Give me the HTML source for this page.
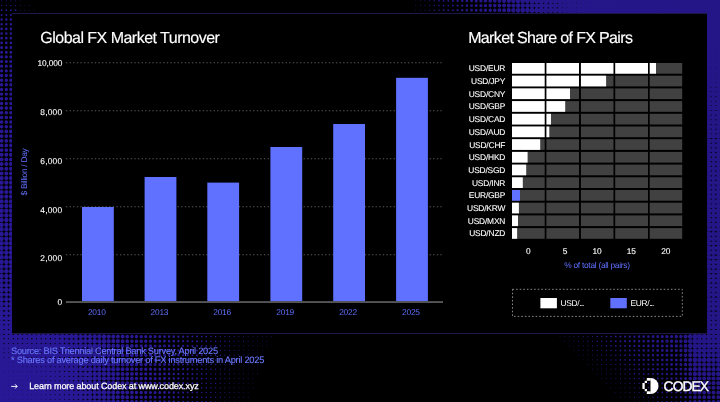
<!DOCTYPE html>
<html><head><meta charset="utf-8"><title>Global FX Market Turnover</title>
<style>
html,body{margin:0;padding:0;}
body{width:720px;height:402px;background:#000;position:relative;overflow:hidden;font-family:"Liberation Sans",sans-serif;}
svg{position:absolute;left:0;top:0;display:block;}
.panel{position:absolute;left:12.2px;top:13.0px;width:695.0px;height:321.0px;background:#000;border-top:1px solid #1e1848;border-bottom:1px solid #1e1848;box-sizing:border-box;}
.t{position:absolute;white-space:nowrap;line-height:10px;height:10px;font-size:8.4px;color:#fff;text-rendering:geometricPrecision;}
.h{font-size:16px;line-height:18px;height:18px;top:29.9px;color:#fff;-webkit-text-stroke:0.15px #fff;}
.yl{left:20px;width:42.3px;text-align:right;-webkit-text-stroke:0.1px #fff;}
.xl{top:307.1px;width:40px;text-align:center;color:#6070ff;letter-spacing:-0.23px;}
.rl{left:440px;width:65.2px;text-align:right;letter-spacing:-0.18px;-webkit-text-stroke:0.1px #fff;}
.tk{top:246.0px;width:30px;text-align:center;letter-spacing:-0.2px;-webkit-text-stroke:0.1px #fff;}
.txt{position:absolute;left:0;top:0;width:720px;height:402px;will-change:transform;}
.src{font-size:9.3px;color:#6a78ff;left:11.0px;-webkit-text-stroke:0.12px #6a78ff;}
</style></head><body>
<svg class="ht" style="filter:blur(0.35px)" width="720" height="402" viewBox="0 0 720 402"><defs><linearGradient id="pg" gradientUnits="userSpaceOnUse" x1="0" y1="0" x2="720" y2="0"><stop offset="0" stop-color="#281896"/><stop offset="1" stop-color="#241687"/></linearGradient></defs><g fill="none" stroke="url(#pg)" stroke-linecap="round"><path d="M415.7 -3.8h0M20.2 0.9h0M415.7 0.9h0M24.9 5.6h0M29.5 5.6h0M415.7 5.6h0M29.5 10.2h0M34.2 10.2h0M415.7 10.2h0M34.2 14.9h0M415.7 14.9h0M262.2 331.9h0M266.8 331.9h0M271.5 331.9h0M555.3 331.9h0M560.0 331.9h0M262.2 336.6h0M266.8 336.6h0M271.5 336.6h0M560.0 336.6h0M564.6 336.6h0M257.5 341.2h0M262.2 341.2h0M266.8 341.2h0M564.6 341.2h0M569.3 341.2h0M257.5 345.9h0M262.2 345.9h0M266.8 345.9h0M569.3 345.9h0M573.9 345.9h0M257.5 350.5h0M262.2 350.5h0M573.9 350.5h0M578.6 350.5h0M252.9 355.2h0M257.5 355.2h0M262.2 355.2h0M578.6 355.2h0M583.2 355.2h0M252.9 359.9h0M257.5 359.9h0M262.2 359.9h0M583.2 359.9h0M587.9 359.9h0M252.9 364.5h0M257.5 364.5h0M587.9 364.5h0M592.5 364.5h0M248.2 369.2h0M252.9 369.2h0M257.5 369.2h0M592.5 369.2h0M597.2 369.2h0M248.2 373.9h0M252.9 373.9h0M257.5 373.9h0M597.2 373.9h0M601.8 373.9h0M248.2 378.5h0M252.9 378.5h0M601.8 378.5h0M606.5 378.5h0M248.2 383.2h0M252.9 383.2h0M606.5 383.2h0M611.1 383.2h0M243.6 387.8h0M248.2 387.8h0M252.9 387.8h0M611.1 387.8h0M615.8 387.8h0M243.6 392.5h0M248.2 392.5h0M615.8 392.5h0M620.4 392.5h0M243.6 397.2h0M248.2 397.2h0M620.4 397.2h0M625.1 397.2h0M243.6 401.8h0M248.2 401.8h0M625.1 401.8h0M629.8 401.8h0M238.9 406.5h0M243.6 406.5h0M248.2 406.5h0M629.8 406.5h0M634.4 406.5h0" stroke-width="0.6"/><path d="M-3.1 -3.8h0M1.6 -3.8h0M6.3 -3.8h0M10.9 -3.8h0M15.6 -3.8h0M420.4 -3.8h0M420.4 0.9h0M20.2 5.6h0M420.4 5.6h0M24.9 10.2h0M420.4 10.2h0M29.5 14.9h0M420.4 14.9h0M248.2 331.9h0M252.9 331.9h0M257.5 331.9h0M564.6 331.9h0M248.2 336.6h0M252.9 336.6h0M257.5 336.6h0M569.3 336.6h0M248.2 341.2h0M252.9 341.2h0M573.9 341.2h0M243.6 345.9h0M248.2 345.9h0M252.9 345.9h0M578.6 345.9h0M243.6 350.5h0M248.2 350.5h0M252.9 350.5h0M583.2 350.5h0M243.6 355.2h0M248.2 355.2h0M587.9 355.2h0M238.9 359.9h0M243.6 359.9h0M248.2 359.9h0M592.5 359.9h0M238.9 364.5h0M243.6 364.5h0M248.2 364.5h0M597.2 364.5h0M238.9 369.2h0M243.6 369.2h0M601.8 369.2h0M238.9 373.9h0M243.6 373.9h0M606.5 373.9h0M234.2 378.5h0M238.9 378.5h0M243.6 378.5h0M611.1 378.5h0M234.2 383.2h0M238.9 383.2h0M243.6 383.2h0M615.8 383.2h0M234.2 387.8h0M238.9 387.8h0M620.4 387.8h0M234.2 392.5h0M238.9 392.5h0M625.1 392.5h0M229.6 397.2h0M234.2 397.2h0M238.9 397.2h0M629.8 397.2h0M229.6 401.8h0M234.2 401.8h0M238.9 401.8h0M634.4 401.8h0M229.6 406.5h0M234.2 406.5h0M639.1 406.5h0" stroke-width="0.8"/><path d="M425.0 -3.8h0M-3.1 0.9h0M1.6 0.9h0M6.3 0.9h0M10.9 0.9h0M15.6 0.9h0M425.0 0.9h0M425.0 5.6h0M20.2 10.2h0M425.0 10.2h0M20.2 14.9h0M24.9 14.9h0M425.0 14.9h0M238.9 331.9h0M243.6 331.9h0M569.3 331.9h0M573.9 331.9h0M238.9 336.6h0M243.6 336.6h0M573.9 336.6h0M578.6 336.6h0M234.2 341.2h0M238.9 341.2h0M243.6 341.2h0M578.6 341.2h0M583.2 341.2h0M234.2 345.9h0M238.9 345.9h0M583.2 345.9h0M587.9 345.9h0M234.2 350.5h0M238.9 350.5h0M587.9 350.5h0M592.5 350.5h0M234.2 355.2h0M238.9 355.2h0M592.5 355.2h0M597.2 355.2h0M229.6 359.9h0M234.2 359.9h0M597.2 359.9h0M601.8 359.9h0M229.6 364.5h0M234.2 364.5h0M601.8 364.5h0M606.5 364.5h0M229.6 369.2h0M234.2 369.2h0M606.5 369.2h0M611.1 369.2h0M229.6 373.9h0M234.2 373.9h0M611.1 373.9h0M615.8 373.9h0M224.9 378.5h0M229.6 378.5h0M615.8 378.5h0M620.4 378.5h0M224.9 383.2h0M229.6 383.2h0M620.4 383.2h0M625.1 383.2h0M224.9 387.8h0M229.6 387.8h0M625.1 387.8h0M629.8 387.8h0M224.9 392.5h0M229.6 392.5h0M629.8 392.5h0M634.4 392.5h0M224.9 397.2h0M634.4 397.2h0M639.1 397.2h0M220.3 401.8h0M224.9 401.8h0M639.1 401.8h0M643.7 401.8h0M220.3 406.5h0M224.9 406.5h0M643.7 406.5h0M648.4 406.5h0" stroke-width="1.0"/><path d="M429.7 -3.8h0M429.7 0.9h0M429.7 5.6h0M429.7 10.2h0M429.7 14.9h0M229.6 331.9h0M234.2 331.9h0M578.6 331.9h0M583.2 331.9h0M229.6 336.6h0M234.2 336.6h0M583.2 336.6h0M587.9 336.6h0M229.6 341.2h0M587.9 341.2h0M592.5 341.2h0M224.9 345.9h0M229.6 345.9h0M592.5 345.9h0M597.2 345.9h0M224.9 350.5h0M229.6 350.5h0M597.2 350.5h0M601.8 350.5h0M224.9 355.2h0M229.6 355.2h0M601.8 355.2h0M606.5 355.2h0M224.9 359.9h0M606.5 359.9h0M611.1 359.9h0M220.3 364.5h0M224.9 364.5h0M611.1 364.5h0M615.8 364.5h0M220.3 369.2h0M224.9 369.2h0M615.8 369.2h0M620.4 369.2h0M220.3 373.9h0M224.9 373.9h0M620.4 373.9h0M625.1 373.9h0M220.3 378.5h0M625.1 378.5h0M629.8 378.5h0M220.3 383.2h0M629.8 383.2h0M634.4 383.2h0M215.6 387.8h0M220.3 387.8h0M634.4 387.8h0M639.1 387.8h0M215.6 392.5h0M220.3 392.5h0M639.1 392.5h0M643.7 392.5h0M215.6 397.2h0M220.3 397.2h0M643.7 397.2h0M648.4 397.2h0M215.6 401.8h0M648.4 401.8h0M653.0 401.8h0M215.6 406.5h0M653.0 406.5h0M657.7 406.5h0" stroke-width="1.2"/><path d="M434.3 -3.8h0M434.3 0.9h0M-3.1 5.6h0M1.6 5.6h0M6.3 5.6h0M10.9 5.6h0M15.6 5.6h0M434.3 5.6h0M434.3 10.2h0M434.3 14.9h0M220.3 331.9h0M224.9 331.9h0M587.9 331.9h0M220.3 336.6h0M224.9 336.6h0M592.5 336.6h0M220.3 341.2h0M224.9 341.2h0M597.2 341.2h0M220.3 345.9h0M601.8 345.9h0M215.6 350.5h0M220.3 350.5h0M606.5 350.5h0M215.6 355.2h0M220.3 355.2h0M611.1 355.2h0M215.6 359.9h0M220.3 359.9h0M615.8 359.9h0M215.6 364.5h0M620.4 364.5h0M215.6 369.2h0M625.1 369.2h0M211.0 373.9h0M215.6 373.9h0M629.8 373.9h0M211.0 378.5h0M215.6 378.5h0M634.4 378.5h0M211.0 383.2h0M215.6 383.2h0M639.1 383.2h0M211.0 387.8h0M643.7 387.8h0M211.0 392.5h0M648.4 392.5h0M211.0 397.2h0M653.0 397.2h0M206.3 401.8h0M211.0 401.8h0M657.7 401.8h0M206.3 406.5h0M211.0 406.5h0M662.3 406.5h0" stroke-width="1.4"/><path d="M439.0 -3.8h0M439.0 0.9h0M439.0 5.6h0M439.0 10.2h0M439.0 14.9h0M211.0 331.9h0M215.6 331.9h0M592.5 331.9h0M597.2 331.9h0M211.0 336.6h0M215.6 336.6h0M597.2 336.6h0M601.8 336.6h0M211.0 341.2h0M215.6 341.2h0M601.8 341.2h0M606.5 341.2h0M211.0 345.9h0M215.6 345.9h0M606.5 345.9h0M611.1 345.9h0M211.0 350.5h0M611.1 350.5h0M615.8 350.5h0M206.3 355.2h0M211.0 355.2h0M615.8 355.2h0M620.4 355.2h0M206.3 359.9h0M211.0 359.9h0M620.4 359.9h0M625.1 359.9h0M206.3 364.5h0M211.0 364.5h0M625.1 364.5h0M629.8 364.5h0M206.3 369.2h0M211.0 369.2h0M629.8 369.2h0M634.4 369.2h0M206.3 373.9h0M634.4 373.9h0M639.1 373.9h0M206.3 378.5h0M639.1 378.5h0M643.7 378.5h0M201.7 383.2h0M206.3 383.2h0M643.7 383.2h0M648.4 383.2h0M201.7 387.8h0M206.3 387.8h0M648.4 387.8h0M653.0 387.8h0M201.7 392.5h0M206.3 392.5h0M653.0 392.5h0M657.7 392.5h0M201.7 397.2h0M206.3 397.2h0M657.7 397.2h0M662.3 397.2h0M201.7 401.8h0M662.3 401.8h0M667.0 401.8h0M201.7 406.5h0M667.0 406.5h0M671.6 406.5h0" stroke-width="1.6"/><path d="M443.6 -3.8h0M448.3 -3.8h0M443.6 0.9h0M448.3 0.9h0M443.6 5.6h0M448.3 5.6h0M-3.1 10.2h0M1.6 10.2h0M6.3 10.2h0M10.9 10.2h0M15.6 10.2h0M443.6 10.2h0M448.3 10.2h0M443.6 14.9h0M448.3 14.9h0M201.7 331.9h0M206.3 331.9h0M601.8 331.9h0M606.5 331.9h0M201.7 336.6h0M206.3 336.6h0M606.5 336.6h0M611.1 336.6h0M201.7 341.2h0M206.3 341.2h0M611.1 341.2h0M615.8 341.2h0M201.7 345.9h0M206.3 345.9h0M615.8 345.9h0M620.4 345.9h0M201.7 350.5h0M206.3 350.5h0M620.4 350.5h0M625.1 350.5h0M201.7 355.2h0M625.1 355.2h0M629.8 355.2h0M197.0 359.9h0M201.7 359.9h0M629.8 359.9h0M634.4 359.9h0M197.0 364.5h0M201.7 364.5h0M634.4 364.5h0M639.1 364.5h0M197.0 369.2h0M201.7 369.2h0M639.1 369.2h0M643.7 369.2h0M197.0 373.9h0M201.7 373.9h0M643.7 373.9h0M648.4 373.9h0M197.0 378.5h0M201.7 378.5h0M648.4 378.5h0M653.0 378.5h0M197.0 383.2h0M653.0 383.2h0M657.7 383.2h0M197.0 387.8h0M657.7 387.8h0M662.3 387.8h0M197.0 392.5h0M662.3 392.5h0M667.0 392.5h0M192.4 397.2h0M197.0 397.2h0M667.0 397.2h0M671.6 397.2h0M192.4 401.8h0M197.0 401.8h0M671.6 401.8h0M676.3 401.8h0M192.4 406.5h0M197.0 406.5h0M676.3 406.5h0M680.9 406.5h0" stroke-width="1.8"/><path d="M452.9 -3.8h0M452.9 0.9h0M452.9 5.6h0M452.9 10.2h0M-3.1 14.9h0M1.6 14.9h0M6.3 14.9h0M10.9 14.9h0M15.6 14.9h0M452.9 14.9h0M197.0 331.9h0M611.1 331.9h0M192.4 336.6h0M197.0 336.6h0M615.8 336.6h0M192.4 341.2h0M197.0 341.2h0M620.4 341.2h0M192.4 345.9h0M197.0 345.9h0M625.1 345.9h0M192.4 350.5h0M197.0 350.5h0M629.8 350.5h0M192.4 355.2h0M197.0 355.2h0M634.4 355.2h0M192.4 359.9h0M639.1 359.9h0M192.4 364.5h0M643.7 364.5h0M192.4 369.2h0M648.4 369.2h0M187.7 373.9h0M192.4 373.9h0M653.0 373.9h0M187.7 378.5h0M192.4 378.5h0M657.7 378.5h0M187.7 383.2h0M192.4 383.2h0M662.3 383.2h0M187.7 387.8h0M192.4 387.8h0M667.0 387.8h0M187.7 392.5h0M192.4 392.5h0M671.6 392.5h0M187.7 397.2h0M676.3 397.2h0M187.7 401.8h0M680.9 401.8h0M187.7 406.5h0" stroke-width="2.0"/><path d="M457.6 -3.8h0M457.6 0.9h0M457.6 5.6h0M457.6 10.2h0M457.6 14.9h0M187.7 331.9h0M192.4 331.9h0M615.8 331.9h0M620.4 331.9h0M187.7 336.6h0M620.4 336.6h0M625.1 336.6h0M183.1 341.2h0M187.7 341.2h0M625.1 341.2h0M629.8 341.2h0M183.1 345.9h0M187.7 345.9h0M629.8 345.9h0M634.4 345.9h0M183.1 350.5h0M187.7 350.5h0M634.4 350.5h0M639.1 350.5h0M183.1 355.2h0M187.7 355.2h0M639.1 355.2h0M643.7 355.2h0M183.1 359.9h0M187.7 359.9h0M643.7 359.9h0M648.4 359.9h0M183.1 364.5h0M187.7 364.5h0M648.4 364.5h0M653.0 364.5h0M183.1 369.2h0M187.7 369.2h0M653.0 369.2h0M657.7 369.2h0M183.1 373.9h0M657.7 373.9h0M662.3 373.9h0M183.1 378.5h0M662.3 378.5h0M667.0 378.5h0M183.1 383.2h0M667.0 383.2h0M671.6 383.2h0M178.4 387.8h0M183.1 387.8h0M671.6 387.8h0M676.3 387.8h0M178.4 392.5h0M183.1 392.5h0M676.3 392.5h0M680.9 392.5h0M178.4 397.2h0M183.1 397.2h0M680.9 397.2h0M178.4 401.8h0M183.1 401.8h0M178.4 406.5h0M183.1 406.5h0" stroke-width="2.2"/><path d="M462.2 -3.8h0M462.2 0.9h0M462.2 5.6h0M462.2 10.2h0M462.2 14.9h0M-3.1 19.5h0M1.6 19.5h0M6.3 19.5h0M10.9 19.5h0M-3.1 24.2h0M1.6 24.2h0M6.3 24.2h0M10.9 24.2h0M178.4 331.9h0M183.1 331.9h0M625.1 331.9h0M629.8 331.9h0M178.4 336.6h0M183.1 336.6h0M629.8 336.6h0M634.4 336.6h0M178.4 341.2h0M634.4 341.2h0M639.1 341.2h0M178.4 345.9h0M639.1 345.9h0M643.7 345.9h0M178.4 350.5h0M643.7 350.5h0M648.4 350.5h0M178.4 355.2h0M648.4 355.2h0M653.0 355.2h0M173.8 359.9h0M178.4 359.9h0M653.0 359.9h0M657.7 359.9h0M173.8 364.5h0M178.4 364.5h0M657.7 364.5h0M662.3 364.5h0M173.8 369.2h0M178.4 369.2h0M662.3 369.2h0M667.0 369.2h0M173.8 373.9h0M178.4 373.9h0M667.0 373.9h0M671.6 373.9h0M173.8 378.5h0M178.4 378.5h0M671.6 378.5h0M676.3 378.5h0M173.8 383.2h0M178.4 383.2h0M676.3 383.2h0M680.9 383.2h0M173.8 387.8h0M680.9 387.8h0M173.8 392.5h0M173.8 397.2h0M173.8 401.8h0M685.6 401.8h0M173.8 406.5h0M685.6 406.5h0" stroke-width="2.4"/><path d="M466.9 -3.8h0M466.9 0.9h0M466.9 5.6h0M466.9 10.2h0M466.9 14.9h0M-3.1 28.9h0M1.6 28.9h0M6.3 28.9h0M10.9 28.9h0M-3.1 33.5h0M1.6 33.5h0M6.3 33.5h0M10.9 33.5h0M169.1 331.9h0M173.8 331.9h0M634.4 331.9h0M169.1 336.6h0M173.8 336.6h0M639.1 336.6h0M169.1 341.2h0M173.8 341.2h0M643.7 341.2h0M169.1 345.9h0M173.8 345.9h0M648.4 345.9h0M169.1 350.5h0M173.8 350.5h0M653.0 350.5h0M169.1 355.2h0M173.8 355.2h0M657.7 355.2h0M169.1 359.9h0M662.3 359.9h0M169.1 364.5h0M667.0 364.5h0M169.1 369.2h0M671.6 369.2h0M169.1 373.9h0M676.3 373.9h0M169.1 378.5h0M680.9 378.5h0M169.1 383.2h0M169.1 387.8h0M169.1 392.5h0M685.6 392.5h0M169.1 397.2h0M685.6 397.2h0M169.1 401.8h0M169.1 406.5h0" stroke-width="2.6"/><path d="M471.6 -3.8h0M471.6 0.9h0M471.6 5.6h0M471.6 10.2h0M471.6 14.9h0M-3.1 38.2h0M1.6 38.2h0M6.3 38.2h0M10.9 38.2h0M-3.1 42.9h0M1.6 42.9h0M6.3 42.9h0M10.9 42.9h0M164.5 331.9h0M639.1 331.9h0M643.7 331.9h0M164.5 336.6h0M643.7 336.6h0M648.4 336.6h0M164.5 341.2h0M648.4 341.2h0M653.0 341.2h0M164.5 345.9h0M653.0 345.9h0M657.7 345.9h0M164.5 350.5h0M657.7 350.5h0M662.3 350.5h0M164.5 355.2h0M662.3 355.2h0M667.0 355.2h0M164.5 359.9h0M667.0 359.9h0M671.6 359.9h0M164.5 364.5h0M671.6 364.5h0M676.3 364.5h0M164.5 369.2h0M676.3 369.2h0M680.9 369.2h0M164.5 373.9h0M680.9 373.9h0M164.5 378.5h0M164.5 383.2h0M164.5 387.8h0M685.6 387.8h0M164.5 392.5h0M164.5 397.2h0M164.5 401.8h0M159.8 406.5h0M164.5 406.5h0" stroke-width="2.8"/><path d="M476.2 -3.8h0M476.2 0.9h0M476.2 5.6h0M476.2 10.2h0M476.2 14.9h0M-3.1 47.5h0M1.6 47.5h0M6.3 47.5h0M10.9 47.5h0M-3.1 52.2h0M1.6 52.2h0M6.3 52.2h0M10.9 52.2h0M155.1 331.9h0M159.8 331.9h0M648.4 331.9h0M653.0 331.9h0M155.1 336.6h0M159.8 336.6h0M653.0 336.6h0M657.7 336.6h0M155.1 341.2h0M159.8 341.2h0M657.7 341.2h0M662.3 341.2h0M155.1 345.9h0M159.8 345.9h0M662.3 345.9h0M667.0 345.9h0M155.1 350.5h0M159.8 350.5h0M667.0 350.5h0M671.6 350.5h0M155.1 355.2h0M159.8 355.2h0M671.6 355.2h0M676.3 355.2h0M155.1 359.9h0M159.8 359.9h0M676.3 359.9h0M680.9 359.9h0M155.1 364.5h0M159.8 364.5h0M680.9 364.5h0M155.1 369.2h0M159.8 369.2h0M155.1 373.9h0M159.8 373.9h0M155.1 378.5h0M159.8 378.5h0M685.6 378.5h0M155.1 383.2h0M159.8 383.2h0M685.6 383.2h0M155.1 387.8h0M159.8 387.8h0M155.1 392.5h0M159.8 392.5h0M155.1 397.2h0M159.8 397.2h0M155.1 401.8h0M159.8 401.8h0M155.1 406.5h0M690.2 406.5h0" stroke-width="3.0"/><path d="M480.9 -3.8h0M480.9 0.9h0M480.9 5.6h0M480.9 10.2h0M480.9 14.9h0M-3.1 56.8h0M1.6 56.8h0M6.3 56.8h0M10.9 56.8h0M-3.1 61.5h0M1.6 61.5h0M6.3 61.5h0M10.9 61.5h0M-3.1 66.2h0M1.6 66.2h0M6.3 66.2h0M10.9 66.2h0M-3.1 70.8h0M1.6 70.8h0M6.3 70.8h0M10.9 70.8h0M150.5 331.9h0M657.7 331.9h0M150.5 336.6h0M662.3 336.6h0M150.5 341.2h0M667.0 341.2h0M150.5 345.9h0M671.6 345.9h0M150.5 350.5h0M676.3 350.5h0M150.5 355.2h0M680.9 355.2h0M150.5 359.9h0M150.5 364.5h0M150.5 369.2h0M685.6 369.2h0M150.5 373.9h0M685.6 373.9h0M150.5 378.5h0M150.5 383.2h0M150.5 387.8h0M150.5 392.5h0M150.5 397.2h0M690.2 397.2h0M150.5 401.8h0M690.2 401.8h0M150.5 406.5h0" stroke-width="3.2"/><path d="M485.5 -3.8h0M485.5 0.9h0M485.5 5.6h0M485.5 10.2h0M485.5 14.9h0M-3.1 75.5h0M1.6 75.5h0M6.3 75.5h0M10.9 75.5h0M-3.1 80.2h0M1.6 80.2h0M6.3 80.2h0M10.9 80.2h0M-3.1 84.8h0M1.6 84.8h0M6.3 84.8h0M10.9 84.8h0M-3.1 89.5h0M1.6 89.5h0M6.3 89.5h0M10.9 89.5h0M-3.1 94.1h0M1.6 94.1h0M6.3 94.1h0M10.9 94.1h0M-3.1 98.8h0M1.6 98.8h0M6.3 98.8h0M10.9 98.8h0M-3.1 103.5h0M1.6 103.5h0M6.3 103.5h0M10.9 103.5h0M141.2 331.9h0M145.8 331.9h0M662.3 331.9h0M667.0 331.9h0M141.2 336.6h0M145.8 336.6h0M667.0 336.6h0M671.6 336.6h0M141.2 341.2h0M145.8 341.2h0M671.6 341.2h0M676.3 341.2h0M141.2 345.9h0M145.8 345.9h0M676.3 345.9h0M680.9 345.9h0M141.2 350.5h0M145.8 350.5h0M680.9 350.5h0M141.2 355.2h0M145.8 355.2h0M141.2 359.9h0M145.8 359.9h0M141.2 364.5h0M145.8 364.5h0M685.6 364.5h0M141.2 369.2h0M145.8 369.2h0M141.2 373.9h0M145.8 373.9h0M141.2 378.5h0M145.8 378.5h0M145.8 383.2h0M145.8 387.8h0M690.2 387.8h0M145.8 392.5h0M690.2 392.5h0M145.8 397.2h0M145.8 401.8h0M145.8 406.5h0" stroke-width="3.4"/><path d="M490.2 -3.8h0M494.8 -3.8h0M490.2 0.9h0M494.8 0.9h0M490.2 5.6h0M494.8 5.6h0M490.2 10.2h0M494.8 10.2h0M490.2 14.9h0M494.8 14.9h0M-3.1 108.1h0M1.6 108.1h0M6.3 108.1h0M10.9 108.1h0M-3.1 112.8h0M1.6 112.8h0M6.3 112.8h0M10.9 112.8h0M-3.1 117.5h0M1.6 117.5h0M6.3 117.5h0M10.9 117.5h0M-3.1 122.1h0M1.6 122.1h0M6.3 122.1h0M10.9 122.1h0M-3.1 126.8h0M1.6 126.8h0M6.3 126.8h0M10.9 126.8h0M131.9 331.9h0M136.5 331.9h0M671.6 331.9h0M676.3 331.9h0M131.9 336.6h0M136.5 336.6h0M676.3 336.6h0M680.9 336.6h0M131.9 341.2h0M136.5 341.2h0M680.9 341.2h0M136.5 345.9h0M136.5 350.5h0M136.5 355.2h0M685.6 355.2h0M136.5 359.9h0M685.6 359.9h0M136.5 364.5h0M136.5 369.2h0M136.5 373.9h0M136.5 378.5h0M690.2 378.5h0M136.5 383.2h0M141.2 383.2h0M690.2 383.2h0M136.5 387.8h0M141.2 387.8h0M136.5 392.5h0M141.2 392.5h0M136.5 397.2h0M141.2 397.2h0M136.5 401.8h0M141.2 401.8h0M694.9 401.8h0M136.5 406.5h0M141.2 406.5h0M694.9 406.5h0M699.5 406.5h0M704.2 406.5h0M708.9 406.5h0M713.5 406.5h0M718.2 406.5h0M722.8 406.5h0" stroke-width="3.6"/><path d="M499.5 -3.8h0M499.5 0.9h0M499.5 5.6h0M499.5 10.2h0M499.5 14.9h0M-3.1 131.4h0M1.6 131.4h0M6.3 131.4h0M10.9 131.4h0M-3.1 136.1h0M1.6 136.1h0M6.3 136.1h0M10.9 136.1h0M-3.1 140.8h0M1.6 140.8h0M6.3 140.8h0M10.9 140.8h0M-3.1 145.4h0M1.6 145.4h0M6.3 145.4h0M10.9 145.4h0M-3.1 150.1h0M1.6 150.1h0M6.3 150.1h0M10.9 150.1h0M127.2 331.9h0M680.9 331.9h0M127.2 336.6h0M127.2 341.2h0M127.2 345.9h0M131.9 345.9h0M685.6 345.9h0M127.2 350.5h0M131.9 350.5h0M685.6 350.5h0M127.2 355.2h0M131.9 355.2h0M127.2 359.9h0M131.9 359.9h0M127.2 364.5h0M131.9 364.5h0M127.2 369.2h0M131.9 369.2h0M131.9 373.9h0M690.2 373.9h0M131.9 378.5h0M131.9 383.2h0M131.9 387.8h0M131.9 392.5h0M131.9 397.2h0M694.9 397.2h0M699.5 397.2h0M704.2 397.2h0M708.9 397.2h0M713.5 397.2h0M718.2 397.2h0M722.8 397.2h0M131.9 401.8h0M699.5 401.8h0M704.2 401.8h0M708.9 401.8h0M713.5 401.8h0M718.2 401.8h0M722.8 401.8h0M131.9 406.5h0" stroke-width="3.8"/><path d="M504.1 -3.8h0M504.1 0.9h0M504.1 5.6h0M504.1 10.2h0M504.1 14.9h0M-3.1 154.7h0M1.6 154.7h0M6.3 154.7h0M10.9 154.7h0M-3.1 159.4h0M1.6 159.4h0M6.3 159.4h0M10.9 159.4h0M-3.1 164.1h0M1.6 164.1h0M6.3 164.1h0M10.9 164.1h0M-3.1 168.7h0M1.6 168.7h0M6.3 168.7h0M10.9 168.7h0M-3.1 173.4h0M1.6 173.4h0M6.3 173.4h0M10.9 173.4h0M117.9 331.9h0M122.6 331.9h0M117.9 336.6h0M122.6 336.6h0M122.6 341.2h0M685.6 341.2h0M122.6 345.9h0M122.6 350.5h0M122.6 355.2h0M122.6 359.9h0M122.6 364.5h0M690.2 364.5h0M122.6 369.2h0M690.2 369.2h0M122.6 373.9h0M127.2 373.9h0M122.6 378.5h0M127.2 378.5h0M122.6 383.2h0M127.2 383.2h0M127.2 387.8h0M694.9 387.8h0M699.5 387.8h0M704.2 387.8h0M708.9 387.8h0M713.5 387.8h0M718.2 387.8h0M722.8 387.8h0M127.2 392.5h0M694.9 392.5h0M699.5 392.5h0M704.2 392.5h0M708.9 392.5h0M713.5 392.5h0M718.2 392.5h0M722.8 392.5h0M127.2 397.2h0M127.2 401.8h0M127.2 406.5h0" stroke-width="4.0"/><path d="M508.8 -3.8h0M508.8 0.9h0M508.8 5.6h0M508.8 10.2h0M508.8 14.9h0M-3.1 178.1h0M1.6 178.1h0M6.3 178.1h0M10.9 178.1h0M-3.1 182.7h0M1.6 182.7h0M6.3 182.7h0M10.9 182.7h0M-3.1 187.4h0M1.6 187.4h0M6.3 187.4h0M10.9 187.4h0M-3.1 192.0h0M1.6 192.0h0M6.3 192.0h0M10.9 192.0h0M-3.1 196.7h0M1.6 196.7h0M6.3 196.7h0M10.9 196.7h0M-3.1 201.4h0M1.6 201.4h0M6.3 201.4h0M10.9 201.4h0M113.3 331.9h0M685.6 331.9h0M113.3 336.6h0M685.6 336.6h0M113.3 341.2h0M117.9 341.2h0M113.3 345.9h0M117.9 345.9h0M117.9 350.5h0M117.9 355.2h0M690.2 355.2h0M117.9 359.9h0M690.2 359.9h0M117.9 364.5h0M117.9 369.2h0M117.9 373.9h0M117.9 378.5h0M694.9 378.5h0M699.5 378.5h0M704.2 378.5h0M708.9 378.5h0M713.5 378.5h0M718.2 378.5h0M722.8 378.5h0M117.9 383.2h0M694.9 383.2h0M699.5 383.2h0M704.2 383.2h0M708.9 383.2h0M713.5 383.2h0M718.2 383.2h0M722.8 383.2h0M117.9 387.8h0M122.6 387.8h0M117.9 392.5h0M122.6 392.5h0M117.9 397.2h0M122.6 397.2h0M117.9 401.8h0M122.6 401.8h0M122.6 406.5h0" stroke-width="4.2"/><path d="M513.4 -3.8h0M513.4 0.9h0M513.4 5.6h0M513.4 10.2h0M513.4 14.9h0M-3.1 206.0h0M1.6 206.0h0M6.3 206.0h0M10.9 206.0h0M-3.1 210.7h0M1.6 210.7h0M6.3 210.7h0M10.9 210.7h0M-3.1 215.4h0M1.6 215.4h0M6.3 215.4h0M10.9 215.4h0M-3.1 220.0h0M1.6 220.0h0M6.3 220.0h0M10.9 220.0h0M-3.1 224.7h0M1.6 224.7h0M6.3 224.7h0M10.9 224.7h0M-3.1 229.3h0M1.6 229.3h0M6.3 229.3h0M10.9 229.3h0M-3.1 234.0h0M1.6 234.0h0M6.3 234.0h0M10.9 234.0h0M-3.1 238.7h0M1.6 238.7h0M6.3 238.7h0M10.9 238.7h0M104.0 331.9h0M108.6 331.9h0M108.6 336.6h0M108.6 341.2h0M108.6 345.9h0M108.6 350.5h0M113.3 350.5h0M690.2 350.5h0M113.3 355.2h0M113.3 359.9h0M113.3 364.5h0M113.3 369.2h0M694.9 369.2h0M699.5 369.2h0M704.2 369.2h0M708.9 369.2h0M713.5 369.2h0M718.2 369.2h0M722.8 369.2h0M113.3 373.9h0M694.9 373.9h0M699.5 373.9h0M704.2 373.9h0M708.9 373.9h0M713.5 373.9h0M718.2 373.9h0M722.8 373.9h0M113.3 378.5h0M113.3 383.2h0M113.3 387.8h0M113.3 392.5h0M113.3 397.2h0M113.3 401.8h0M113.3 406.5h0M117.9 406.5h0" stroke-width="4.4"/><path d="M518.1 -3.8h0M518.1 0.9h0M518.1 5.6h0M518.1 10.2h0M518.1 14.9h0M-3.1 243.3h0M1.6 243.3h0M6.3 243.3h0M10.9 243.3h0M-3.1 248.0h0M1.6 248.0h0M6.3 248.0h0M10.9 248.0h0M-3.1 252.6h0M1.6 252.6h0M6.3 252.6h0M10.9 252.6h0M-3.1 257.3h0M1.6 257.3h0M6.3 257.3h0M10.9 257.3h0M-3.1 262.0h0M1.6 262.0h0M6.3 262.0h0M10.9 262.0h0M-3.1 266.6h0M1.6 266.6h0M6.3 266.6h0M10.9 266.6h0M-3.1 271.3h0M1.6 271.3h0M6.3 271.3h0M10.9 271.3h0M-3.1 276.0h0M1.6 276.0h0M6.3 276.0h0M10.9 276.0h0M-3.1 280.6h0M1.6 280.6h0M6.3 280.6h0M10.9 280.6h0M94.7 331.9h0M99.3 331.9h0M94.7 336.6h0M99.3 336.6h0M104.0 336.6h0M99.3 341.2h0M104.0 341.2h0M690.2 341.2h0M99.3 345.9h0M104.0 345.9h0M690.2 345.9h0M99.3 350.5h0M104.0 350.5h0M104.0 355.2h0M108.6 355.2h0M104.0 359.9h0M108.6 359.9h0M694.9 359.9h0M104.0 364.5h0M108.6 364.5h0M694.9 364.5h0M699.5 364.5h0M704.2 364.5h0M708.9 364.5h0M713.5 364.5h0M718.2 364.5h0M722.8 364.5h0M104.0 369.2h0M108.6 369.2h0M104.0 373.9h0M108.6 373.9h0M104.0 378.5h0M108.6 378.5h0M104.0 383.2h0M108.6 383.2h0M108.6 387.8h0M108.6 392.5h0M108.6 397.2h0M108.6 401.8h0M108.6 406.5h0" stroke-width="4.6"/><path d="M522.7 -3.8h0M527.4 -3.8h0M522.7 0.9h0M527.4 0.9h0M522.7 5.6h0M527.4 5.6h0M522.7 10.2h0M527.4 10.2h0M522.7 14.9h0M527.4 14.9h0M-3.1 285.3h0M1.6 285.3h0M6.3 285.3h0M10.9 285.3h0M-3.1 289.9h0M1.6 289.9h0M6.3 289.9h0M10.9 289.9h0M-3.1 294.6h0M1.6 294.6h0M6.3 294.6h0M10.9 294.6h0M-3.1 299.3h0M1.6 299.3h0M6.3 299.3h0M10.9 299.3h0M-3.1 303.9h0M1.6 303.9h0M6.3 303.9h0M10.9 303.9h0M76.0 331.9h0M80.7 331.9h0M85.4 331.9h0M90.0 331.9h0M690.2 331.9h0M80.7 336.6h0M85.4 336.6h0M90.0 336.6h0M690.2 336.6h0M85.4 341.2h0M90.0 341.2h0M94.7 341.2h0M85.4 345.9h0M90.0 345.9h0M94.7 345.9h0M85.4 350.5h0M90.0 350.5h0M94.7 350.5h0M90.0 355.2h0M94.7 355.2h0M99.3 355.2h0M694.9 355.2h0M699.5 355.2h0M704.2 355.2h0M708.9 355.2h0M713.5 355.2h0M718.2 355.2h0M722.8 355.2h0M90.0 359.9h0M94.7 359.9h0M99.3 359.9h0M699.5 359.9h0M704.2 359.9h0M708.9 359.9h0M713.5 359.9h0M718.2 359.9h0M722.8 359.9h0M90.0 364.5h0M94.7 364.5h0M99.3 364.5h0M94.7 369.2h0M99.3 369.2h0M94.7 373.9h0M99.3 373.9h0M94.7 378.5h0M99.3 378.5h0M94.7 383.2h0M99.3 383.2h0M94.7 387.8h0M99.3 387.8h0M104.0 387.8h0M94.7 392.5h0M99.3 392.5h0M104.0 392.5h0M94.7 397.2h0M99.3 397.2h0M104.0 397.2h0M94.7 401.8h0M99.3 401.8h0M104.0 401.8h0M94.7 406.5h0M99.3 406.5h0M104.0 406.5h0" stroke-width="4.8"/><path d="M532.0 -3.8h0M536.7 -3.8h0M532.0 0.9h0M536.7 0.9h0M532.0 5.6h0M536.7 5.6h0M532.0 10.2h0M536.7 10.2h0M532.0 14.9h0M536.7 14.9h0M-3.1 308.6h0M1.6 308.6h0M6.3 308.6h0M10.9 308.6h0M-3.1 313.3h0M1.6 313.3h0M6.3 313.3h0M10.9 313.3h0M-3.1 317.9h0M1.6 317.9h0M6.3 317.9h0M10.9 317.9h0M52.8 331.9h0M57.4 331.9h0M62.1 331.9h0M66.7 331.9h0M71.4 331.9h0M62.1 336.6h0M66.7 336.6h0M71.4 336.6h0M76.0 336.6h0M66.7 341.2h0M71.4 341.2h0M76.0 341.2h0M80.7 341.2h0M71.4 345.9h0M76.0 345.9h0M80.7 345.9h0M694.9 345.9h0M699.5 345.9h0M704.2 345.9h0M708.9 345.9h0M713.5 345.9h0M718.2 345.9h0M722.8 345.9h0M71.4 350.5h0M76.0 350.5h0M80.7 350.5h0M694.9 350.5h0M699.5 350.5h0M704.2 350.5h0M708.9 350.5h0M713.5 350.5h0M718.2 350.5h0M722.8 350.5h0M76.0 355.2h0M80.7 355.2h0M85.4 355.2h0M76.0 359.9h0M80.7 359.9h0M85.4 359.9h0M80.7 364.5h0M85.4 364.5h0M80.7 369.2h0M85.4 369.2h0M90.0 369.2h0M80.7 373.9h0M85.4 373.9h0M90.0 373.9h0M80.7 378.5h0M85.4 378.5h0M90.0 378.5h0M85.4 383.2h0M90.0 383.2h0M85.4 387.8h0M90.0 387.8h0M85.4 392.5h0M90.0 392.5h0M85.4 397.2h0M90.0 397.2h0M85.4 401.8h0M90.0 401.8h0M85.4 406.5h0M90.0 406.5h0" stroke-width="5.0"/><path d="M541.3 -3.8h0M546.0 -3.8h0M541.3 0.9h0M546.0 0.9h0M541.3 5.6h0M546.0 5.6h0M541.3 10.2h0M546.0 10.2h0M541.3 14.9h0M546.0 14.9h0M704.2 140.8h0M708.9 140.8h0M713.5 140.8h0M718.2 140.8h0M722.8 140.8h0M704.2 145.4h0M708.9 145.4h0M713.5 145.4h0M718.2 145.4h0M722.8 145.4h0M704.2 150.1h0M708.9 150.1h0M713.5 150.1h0M718.2 150.1h0M722.8 150.1h0M704.2 154.7h0M708.9 154.7h0M713.5 154.7h0M718.2 154.7h0M722.8 154.7h0M704.2 159.4h0M708.9 159.4h0M713.5 159.4h0M718.2 159.4h0M722.8 159.4h0M704.2 164.1h0M708.9 164.1h0M713.5 164.1h0M718.2 164.1h0M722.8 164.1h0M704.2 168.7h0M708.9 168.7h0M713.5 168.7h0M718.2 168.7h0M722.8 168.7h0M704.2 173.4h0M708.9 173.4h0M713.5 173.4h0M718.2 173.4h0M722.8 173.4h0M704.2 178.1h0M708.9 178.1h0M713.5 178.1h0M718.2 178.1h0M722.8 178.1h0M704.2 182.7h0M708.9 182.7h0M713.5 182.7h0M718.2 182.7h0M722.8 182.7h0M704.2 187.4h0M708.9 187.4h0M713.5 187.4h0M718.2 187.4h0M722.8 187.4h0M704.2 192.0h0M708.9 192.0h0M713.5 192.0h0M718.2 192.0h0M722.8 192.0h0M704.2 196.7h0M708.9 196.7h0M713.5 196.7h0M718.2 196.7h0M722.8 196.7h0M704.2 206.0h0M708.9 206.0h0M713.5 206.0h0M718.2 206.0h0M722.8 206.0h0M704.2 210.7h0M708.9 210.7h0M713.5 210.7h0M718.2 210.7h0M722.8 210.7h0M704.2 215.4h0M708.9 215.4h0M713.5 215.4h0M718.2 215.4h0M722.8 215.4h0M704.2 220.0h0M708.9 220.0h0M713.5 220.0h0M718.2 220.0h0M722.8 220.0h0M704.2 224.7h0M708.9 224.7h0M713.5 224.7h0M718.2 224.7h0M722.8 224.7h0M704.2 229.3h0M708.9 229.3h0M713.5 229.3h0M718.2 229.3h0M722.8 229.3h0M704.2 234.0h0M708.9 234.0h0M713.5 234.0h0M718.2 234.0h0M722.8 234.0h0M704.2 238.7h0M708.9 238.7h0M713.5 238.7h0M718.2 238.7h0M722.8 238.7h0M704.2 243.3h0M708.9 243.3h0M713.5 243.3h0M718.2 243.3h0M722.8 243.3h0M704.2 248.0h0M708.9 248.0h0M713.5 248.0h0M718.2 248.0h0M722.8 248.0h0M704.2 252.6h0M708.9 252.6h0M713.5 252.6h0M718.2 252.6h0M722.8 252.6h0M704.2 257.3h0M708.9 257.3h0M713.5 257.3h0M718.2 257.3h0M722.8 257.3h0M704.2 262.0h0M708.9 262.0h0M713.5 262.0h0M718.2 262.0h0M722.8 262.0h0M704.2 266.6h0M708.9 266.6h0M713.5 266.6h0M718.2 266.6h0M722.8 266.6h0M704.2 271.3h0M708.9 271.3h0M713.5 271.3h0M718.2 271.3h0M722.8 271.3h0M704.2 276.0h0M708.9 276.0h0M713.5 276.0h0M718.2 276.0h0M722.8 276.0h0M704.2 280.6h0M708.9 280.6h0M713.5 280.6h0M718.2 280.6h0M722.8 280.6h0M704.2 285.3h0M708.9 285.3h0M713.5 285.3h0M718.2 285.3h0M722.8 285.3h0M704.2 289.9h0M708.9 289.9h0M713.5 289.9h0M718.2 289.9h0M722.8 289.9h0M704.2 294.6h0M708.9 294.6h0M713.5 294.6h0M718.2 294.6h0M722.8 294.6h0M704.2 299.3h0M708.9 299.3h0M713.5 299.3h0M718.2 299.3h0M722.8 299.3h0M704.2 303.9h0M708.9 303.9h0M713.5 303.9h0M718.2 303.9h0M722.8 303.9h0M704.2 308.6h0M708.9 308.6h0M713.5 308.6h0M718.2 308.6h0M722.8 308.6h0M704.2 313.3h0M708.9 313.3h0M713.5 313.3h0M718.2 313.3h0M722.8 313.3h0M704.2 317.9h0M708.9 317.9h0M713.5 317.9h0M718.2 317.9h0M722.8 317.9h0M-3.1 322.6h0M1.6 322.6h0M6.3 322.6h0M10.9 322.6h0M704.2 322.6h0M708.9 322.6h0M713.5 322.6h0M718.2 322.6h0M722.8 322.6h0M-3.1 327.2h0M1.6 327.2h0M6.3 327.2h0M10.9 327.2h0M704.2 327.2h0M708.9 327.2h0M713.5 327.2h0M718.2 327.2h0M722.8 327.2h0M-3.1 331.9h0M1.6 331.9h0M6.3 331.9h0M10.9 331.9h0M15.6 331.9h0M20.2 331.9h0M24.9 331.9h0M29.5 331.9h0M34.2 331.9h0M38.8 331.9h0M43.5 331.9h0M48.1 331.9h0M-3.1 336.6h0M1.6 336.6h0M6.3 336.6h0M10.9 336.6h0M15.6 336.6h0M20.2 336.6h0M24.9 336.6h0M29.5 336.6h0M34.2 336.6h0M38.8 336.6h0M43.5 336.6h0M48.1 336.6h0M52.8 336.6h0M57.4 336.6h0M694.9 336.6h0M699.5 336.6h0M704.2 336.6h0M708.9 336.6h0M713.5 336.6h0M718.2 336.6h0M722.8 336.6h0M43.5 341.2h0M48.1 341.2h0M52.8 341.2h0M57.4 341.2h0M62.1 341.2h0M694.9 341.2h0M699.5 341.2h0M704.2 341.2h0M708.9 341.2h0M713.5 341.2h0M718.2 341.2h0M722.8 341.2h0M52.8 345.9h0M57.4 345.9h0M62.1 345.9h0M66.7 345.9h0M57.4 350.5h0M62.1 350.5h0M66.7 350.5h0M62.1 355.2h0M66.7 355.2h0M71.4 355.2h0M62.1 359.9h0M66.7 359.9h0M71.4 359.9h0M66.7 364.5h0M71.4 364.5h0M76.0 364.5h0M66.7 369.2h0M71.4 369.2h0M76.0 369.2h0M71.4 373.9h0M76.0 373.9h0M71.4 378.5h0M76.0 378.5h0M71.4 383.2h0M76.0 383.2h0M80.7 383.2h0M76.0 387.8h0M80.7 387.8h0M76.0 392.5h0M80.7 392.5h0M76.0 397.2h0M80.7 397.2h0M76.0 401.8h0M80.7 401.8h0M76.0 406.5h0M80.7 406.5h0" stroke-width="5.2"/><path d="M550.7 -3.8h0M555.3 -3.8h0M550.7 0.9h0M555.3 0.9h0M550.7 5.6h0M555.3 5.6h0M550.7 10.2h0M555.3 10.2h0M550.7 14.9h0M555.3 14.9h0M704.2 112.8h0M708.9 112.8h0M713.5 112.8h0M718.2 112.8h0M722.8 112.8h0M704.2 117.5h0M708.9 117.5h0M713.5 117.5h0M718.2 117.5h0M722.8 117.5h0M704.2 122.1h0M708.9 122.1h0M713.5 122.1h0M718.2 122.1h0M722.8 122.1h0M704.2 126.8h0M708.9 126.8h0M713.5 126.8h0M718.2 126.8h0M722.8 126.8h0M704.2 131.4h0M708.9 131.4h0M713.5 131.4h0M718.2 131.4h0M722.8 131.4h0M704.2 136.1h0M708.9 136.1h0M713.5 136.1h0M718.2 136.1h0M722.8 136.1h0M704.2 201.4h0M708.9 201.4h0M713.5 201.4h0M718.2 201.4h0M722.8 201.4h0M694.9 331.9h0M699.5 331.9h0M704.2 331.9h0M708.9 331.9h0M713.5 331.9h0M718.2 331.9h0M722.8 331.9h0M-3.1 341.2h0M1.6 341.2h0M6.3 341.2h0M10.9 341.2h0M15.6 341.2h0M20.2 341.2h0M24.9 341.2h0M29.5 341.2h0M34.2 341.2h0M38.8 341.2h0M-3.1 345.9h0M1.6 345.9h0M6.3 345.9h0M10.9 345.9h0M15.6 345.9h0M20.2 345.9h0M24.9 345.9h0M29.5 345.9h0M34.2 345.9h0M38.8 345.9h0M43.5 345.9h0M48.1 345.9h0M38.8 350.5h0M43.5 350.5h0M48.1 350.5h0M52.8 350.5h0M43.5 355.2h0M48.1 355.2h0M52.8 355.2h0M57.4 355.2h0M48.1 359.9h0M52.8 359.9h0M57.4 359.9h0M52.8 364.5h0M57.4 364.5h0M62.1 364.5h0M57.4 369.2h0M62.1 369.2h0M57.4 373.9h0M62.1 373.9h0M66.7 373.9h0M62.1 378.5h0M66.7 378.5h0M62.1 383.2h0M66.7 383.2h0M62.1 387.8h0M66.7 387.8h0M71.4 387.8h0M66.7 392.5h0M71.4 392.5h0M66.7 397.2h0M71.4 397.2h0M66.7 401.8h0M71.4 401.8h0M66.7 406.5h0M71.4 406.5h0" stroke-width="5.4"/><path d="M560.0 -3.8h0M564.6 -3.8h0M560.0 0.9h0M564.6 0.9h0M560.0 5.6h0M564.6 5.6h0M560.0 10.2h0M564.6 10.2h0M560.0 14.9h0M564.6 14.9h0M704.2 89.5h0M708.9 89.5h0M713.5 89.5h0M718.2 89.5h0M722.8 89.5h0M704.2 94.1h0M708.9 94.1h0M713.5 94.1h0M718.2 94.1h0M722.8 94.1h0M704.2 98.8h0M708.9 98.8h0M713.5 98.8h0M718.2 98.8h0M722.8 98.8h0M704.2 103.5h0M708.9 103.5h0M713.5 103.5h0M718.2 103.5h0M722.8 103.5h0M704.2 108.1h0M708.9 108.1h0M713.5 108.1h0M718.2 108.1h0M722.8 108.1h0M-3.1 350.5h0M1.6 350.5h0M6.3 350.5h0M10.9 350.5h0M15.6 350.5h0M20.2 350.5h0M24.9 350.5h0M29.5 350.5h0M34.2 350.5h0M-3.1 355.2h0M1.6 355.2h0M6.3 355.2h0M10.9 355.2h0M15.6 355.2h0M20.2 355.2h0M24.9 355.2h0M29.5 355.2h0M34.2 355.2h0M38.8 355.2h0M6.3 359.9h0M10.9 359.9h0M15.6 359.9h0M20.2 359.9h0M24.9 359.9h0M29.5 359.9h0M34.2 359.9h0M38.8 359.9h0M43.5 359.9h0M24.9 364.5h0M29.5 364.5h0M34.2 364.5h0M38.8 364.5h0M43.5 364.5h0M48.1 364.5h0M34.2 369.2h0M38.8 369.2h0M43.5 369.2h0M48.1 369.2h0M52.8 369.2h0M38.8 373.9h0M43.5 373.9h0M48.1 373.9h0M52.8 373.9h0M43.5 378.5h0M48.1 378.5h0M52.8 378.5h0M57.4 378.5h0M43.5 383.2h0M48.1 383.2h0M52.8 383.2h0M57.4 383.2h0M48.1 387.8h0M52.8 387.8h0M57.4 387.8h0M48.1 392.5h0M52.8 392.5h0M57.4 392.5h0M62.1 392.5h0M48.1 397.2h0M52.8 397.2h0M57.4 397.2h0M62.1 397.2h0M48.1 401.8h0M52.8 401.8h0M57.4 401.8h0M62.1 401.8h0M52.8 406.5h0M57.4 406.5h0M62.1 406.5h0" stroke-width="5.6"/><path d="M569.3 -3.8h0M573.9 -3.8h0M569.3 0.9h0M573.9 0.9h0M569.3 5.6h0M573.9 5.6h0M569.3 10.2h0M573.9 10.2h0M569.3 14.9h0M573.9 14.9h0M704.2 70.8h0M708.9 70.8h0M713.5 70.8h0M718.2 70.8h0M722.8 70.8h0M704.2 75.5h0M708.9 75.5h0M713.5 75.5h0M718.2 75.5h0M722.8 75.5h0M704.2 80.2h0M708.9 80.2h0M713.5 80.2h0M718.2 80.2h0M722.8 80.2h0M704.2 84.8h0M708.9 84.8h0M713.5 84.8h0M718.2 84.8h0M722.8 84.8h0M-3.1 359.9h0M1.6 359.9h0M-3.1 364.5h0M1.6 364.5h0M6.3 364.5h0M10.9 364.5h0M15.6 364.5h0M20.2 364.5h0M-3.1 369.2h0M1.6 369.2h0M6.3 369.2h0M10.9 369.2h0M15.6 369.2h0M20.2 369.2h0M24.9 369.2h0M29.5 369.2h0M-3.1 373.9h0M1.6 373.9h0M6.3 373.9h0M10.9 373.9h0M15.6 373.9h0M20.2 373.9h0M24.9 373.9h0M29.5 373.9h0M34.2 373.9h0M10.9 378.5h0M15.6 378.5h0M20.2 378.5h0M24.9 378.5h0M29.5 378.5h0M34.2 378.5h0M38.8 378.5h0M20.2 383.2h0M24.9 383.2h0M29.5 383.2h0M34.2 383.2h0M38.8 383.2h0M24.9 387.8h0M29.5 387.8h0M34.2 387.8h0M38.8 387.8h0M43.5 387.8h0M24.9 392.5h0M29.5 392.5h0M34.2 392.5h0M38.8 392.5h0M43.5 392.5h0M29.5 397.2h0M34.2 397.2h0M38.8 397.2h0M43.5 397.2h0M29.5 401.8h0M34.2 401.8h0M38.8 401.8h0M43.5 401.8h0M29.5 406.5h0M34.2 406.5h0M38.8 406.5h0M43.5 406.5h0M48.1 406.5h0" stroke-width="5.8"/><path d="M578.6 -3.8h0M583.2 -3.8h0M578.6 0.9h0M583.2 0.9h0M578.6 5.6h0M583.2 5.6h0M578.6 10.2h0M583.2 10.2h0M578.6 14.9h0M583.2 14.9h0M704.2 47.5h0M708.9 47.5h0M713.5 47.5h0M718.2 47.5h0M722.8 47.5h0M704.2 52.2h0M708.9 52.2h0M713.5 52.2h0M718.2 52.2h0M722.8 52.2h0M704.2 56.8h0M708.9 56.8h0M713.5 56.8h0M718.2 56.8h0M722.8 56.8h0M704.2 61.5h0M708.9 61.5h0M713.5 61.5h0M718.2 61.5h0M722.8 61.5h0M704.2 66.2h0M708.9 66.2h0M713.5 66.2h0M718.2 66.2h0M722.8 66.2h0M-3.1 378.5h0M1.6 378.5h0M6.3 378.5h0M-3.1 383.2h0M1.6 383.2h0M6.3 383.2h0M10.9 383.2h0M15.6 383.2h0M-3.1 387.8h0M1.6 387.8h0M6.3 387.8h0M10.9 387.8h0M15.6 387.8h0M20.2 387.8h0M-3.1 392.5h0M1.6 392.5h0M6.3 392.5h0M10.9 392.5h0M15.6 392.5h0M20.2 392.5h0M6.3 397.2h0M10.9 397.2h0M15.6 397.2h0M20.2 397.2h0M24.9 397.2h0M10.9 401.8h0M15.6 401.8h0M20.2 401.8h0M24.9 401.8h0M10.9 406.5h0M15.6 406.5h0M20.2 406.5h0M24.9 406.5h0" stroke-width="6.0"/><path d="M587.9 -3.8h0M592.5 -3.8h0M587.9 0.9h0M592.5 0.9h0M587.9 5.6h0M592.5 5.6h0M587.9 10.2h0M592.5 10.2h0M587.9 14.9h0M592.5 14.9h0M704.2 33.5h0M708.9 33.5h0M713.5 33.5h0M718.2 33.5h0M722.8 33.5h0M704.2 38.2h0M708.9 38.2h0M713.5 38.2h0M718.2 38.2h0M722.8 38.2h0M704.2 42.9h0M708.9 42.9h0M713.5 42.9h0M718.2 42.9h0M722.8 42.9h0M-3.1 397.2h0M1.6 397.2h0M-3.1 401.8h0M1.6 401.8h0M6.3 401.8h0M-3.1 406.5h0M1.6 406.5h0M6.3 406.5h0" stroke-width="6.2"/><path d="M597.2 -3.8h0M601.8 -3.8h0M597.2 0.9h0M601.8 0.9h0M597.2 5.6h0M601.8 5.6h0M597.2 10.2h0M601.8 10.2h0M597.2 14.9h0M601.8 14.9h0M704.2 19.5h0M708.9 19.5h0M713.5 19.5h0M718.2 19.5h0M722.8 19.5h0M704.2 24.2h0M708.9 24.2h0M713.5 24.2h0M718.2 24.2h0M722.8 24.2h0M704.2 28.9h0M708.9 28.9h0M713.5 28.9h0M718.2 28.9h0M722.8 28.9h0" stroke-width="6.4"/><path d="M606.5 -3.8h0M611.1 -3.8h0M606.5 0.9h0M611.1 0.9h0M606.5 5.6h0M611.1 5.6h0M606.5 10.2h0M611.1 10.2h0M606.5 14.9h0M611.1 14.9h0" stroke-width="6.6"/><path d="M615.8 -3.8h0M620.4 -3.8h0M625.1 -3.8h0M615.8 0.9h0M620.4 0.9h0M625.1 0.9h0M615.8 5.6h0M620.4 5.6h0M625.1 5.6h0M615.8 10.2h0M620.4 10.2h0M625.1 10.2h0M615.8 14.9h0M620.4 14.9h0M625.1 14.9h0" stroke-width="6.8"/><path d="M629.8 -3.8h0M634.4 -3.8h0M639.1 -3.8h0M643.7 -3.8h0M648.4 -3.8h0M653.0 -3.8h0M657.7 -3.8h0M662.3 -3.8h0M667.0 -3.8h0M671.6 -3.8h0M676.3 -3.8h0M680.9 -3.8h0M685.6 -3.8h0M690.2 -3.8h0M694.9 -3.8h0M699.5 -3.8h0M704.2 -3.8h0M708.9 -3.8h0M713.5 -3.8h0M718.2 -3.8h0M722.8 -3.8h0M629.8 0.9h0M634.4 0.9h0M639.1 0.9h0M643.7 0.9h0M648.4 0.9h0M653.0 0.9h0M657.7 0.9h0M662.3 0.9h0M667.0 0.9h0M671.6 0.9h0M676.3 0.9h0M680.9 0.9h0M685.6 0.9h0M690.2 0.9h0M694.9 0.9h0M699.5 0.9h0M704.2 0.9h0M708.9 0.9h0M713.5 0.9h0M718.2 0.9h0M722.8 0.9h0M629.8 5.6h0M634.4 5.6h0M639.1 5.6h0M643.7 5.6h0M648.4 5.6h0M653.0 5.6h0M657.7 5.6h0M662.3 5.6h0M667.0 5.6h0M671.6 5.6h0M676.3 5.6h0M680.9 5.6h0M685.6 5.6h0M690.2 5.6h0M694.9 5.6h0M699.5 5.6h0M704.2 5.6h0M708.9 5.6h0M713.5 5.6h0M718.2 5.6h0M722.8 5.6h0M629.8 10.2h0M634.4 10.2h0M639.1 10.2h0M643.7 10.2h0M648.4 10.2h0M653.0 10.2h0M657.7 10.2h0M662.3 10.2h0M667.0 10.2h0M671.6 10.2h0M676.3 10.2h0M680.9 10.2h0M685.6 10.2h0M690.2 10.2h0M694.9 10.2h0M699.5 10.2h0M704.2 10.2h0M708.9 10.2h0M713.5 10.2h0M718.2 10.2h0M722.8 10.2h0M629.8 14.9h0M634.4 14.9h0M639.1 14.9h0M643.7 14.9h0M648.4 14.9h0M653.0 14.9h0M657.7 14.9h0M662.3 14.9h0M667.0 14.9h0M671.6 14.9h0M676.3 14.9h0M680.9 14.9h0M685.6 14.9h0M690.2 14.9h0M694.9 14.9h0M699.5 14.9h0M704.2 14.9h0M708.9 14.9h0M713.5 14.9h0M718.2 14.9h0M722.8 14.9h0" stroke-width="7.0"/></g></svg>
<div class="panel"></div>
<svg class="ch" width="720" height="402" viewBox="0 0 720 402"><line x1="66" x2="443" y1="254.75" y2="254.75" stroke="#5a5a5a" stroke-width="1" stroke-dasharray="1.3 2.3"/><line x1="66" x2="443" y1="206.75" y2="206.75" stroke="#5a5a5a" stroke-width="1" stroke-dasharray="1.3 2.3"/><line x1="66" x2="443" y1="158.75" y2="158.75" stroke="#5a5a5a" stroke-width="1" stroke-dasharray="1.3 2.3"/><line x1="66" x2="443" y1="110.75" y2="110.75" stroke="#5a5a5a" stroke-width="1" stroke-dasharray="1.3 2.3"/><line x1="66" x2="443" y1="62.75" y2="62.75" stroke="#5a5a5a" stroke-width="1" stroke-dasharray="1.3 2.3"/><rect x="82.0" y="207.0" width="31.8" height="94.5" fill="#6070ff"/><rect x="144.6" y="177.0" width="31.8" height="124.5" fill="#6070ff"/><rect x="207.3" y="182.6" width="31.8" height="119.0" fill="#6070ff"/><rect x="270.4" y="147.0" width="31.8" height="154.6" fill="#6070ff"/><rect x="333.2" y="124.0" width="31.8" height="177.6" fill="#6070ff"/><rect x="396.1" y="77.8" width="31.8" height="223.8" fill="#6070ff"/><rect x="66" y="301.10" width="377" height="1.9" fill="#555"/><rect x="512.0" y="63.00" width="170.2" height="10.7" fill="#414141"/><rect x="512.0" y="63.00" width="144.0" height="10.7" fill="#fff"/><rect x="512.0" y="75.70" width="170.2" height="10.7" fill="#414141"/><rect x="512.0" y="75.70" width="94.1" height="10.7" fill="#fff"/><rect x="512.0" y="88.40" width="170.2" height="10.7" fill="#414141"/><rect x="512.0" y="88.40" width="58.0" height="10.7" fill="#fff"/><rect x="512.0" y="101.10" width="170.2" height="10.7" fill="#414141"/><rect x="512.0" y="101.10" width="53.2" height="10.7" fill="#fff"/><rect x="512.0" y="113.80" width="170.2" height="10.7" fill="#414141"/><rect x="512.0" y="113.80" width="39.0" height="10.7" fill="#fff"/><rect x="512.0" y="126.50" width="170.2" height="10.7" fill="#414141"/><rect x="512.0" y="126.50" width="37.3" height="10.7" fill="#fff"/><rect x="512.0" y="139.20" width="170.2" height="10.7" fill="#414141"/><rect x="512.0" y="139.20" width="28.2" height="10.7" fill="#fff"/><rect x="512.0" y="151.90" width="170.2" height="10.7" fill="#414141"/><rect x="512.0" y="151.90" width="15.6" height="10.7" fill="#fff"/><rect x="512.0" y="164.60" width="170.2" height="10.7" fill="#414141"/><rect x="512.0" y="164.60" width="14.2" height="10.7" fill="#fff"/><rect x="512.0" y="177.30" width="170.2" height="10.7" fill="#414141"/><rect x="512.0" y="177.30" width="10.8" height="10.7" fill="#fff"/><rect x="512.0" y="190.00" width="170.2" height="10.7" fill="#414141"/><rect x="512.0" y="190.00" width="8.0" height="10.7" fill="#6070ff"/><rect x="512.0" y="202.70" width="170.2" height="10.7" fill="#414141"/><rect x="512.0" y="202.70" width="6.9" height="10.7" fill="#fff"/><rect x="512.0" y="215.40" width="170.2" height="10.7" fill="#414141"/><rect x="512.0" y="215.40" width="6.0" height="10.7" fill="#fff"/><rect x="512.0" y="228.10" width="170.2" height="10.7" fill="#414141"/><rect x="512.0" y="228.10" width="5.1" height="10.7" fill="#fff"/><rect x="544.7" y="60" width="1.7" height="182" fill="#000"/><rect x="579.0" y="60" width="1.9" height="182" fill="#000"/><rect x="613.5" y="60" width="1.7" height="182" fill="#000"/><rect x="648.0" y="60" width="1.7" height="182" fill="#000"/><rect x="512.5" y="289.3" width="169.8" height="27.1" fill="none" stroke="#a8a8a8" stroke-width="0.8" stroke-dasharray="1.6 2"/><rect x="540.4" y="298" width="16.5" height="10.3" fill="#fff"/><rect x="610.3" y="298" width="16.5" height="10.3" fill="#6070ff"/><path d="M650.5 378 A8 8 0 0 1 650.5 394 Z" fill="#fff"/><rect x="646.8" y="378.0" width="3.9" height="2.7" fill="#fff"/><rect x="646.8" y="391.3" width="3.9" height="2.7" fill="#fff"/><rect x="644.7" y="380.8" width="2.3" height="2.2" fill="#fff"/><rect x="642.4" y="383.0" width="2.3" height="6.0" fill="#fff"/><rect x="644.7" y="389.0" width="2.3" height="2.2" fill="#fff"/><path d="M11.2 386.4H17M15.1 384.3L17.2 386.4L15.1 388.5" fill="none" stroke="#fff" stroke-width="0.95"/></svg>
<div class="txt">
<div class="t h" style="left:40.3px;letter-spacing:-0.52px">Global FX Market Turnover</div>
<div class="t h" style="left:468.2px;letter-spacing:-0.646px">Market Share of FX Pairs</div>
<div class="t yl" style="top:57.5px;letter-spacing:-0.15px">10,000</div><div class="t yl" style="top:106.5px;letter-spacing:0.2px">8,000</div><div class="t yl" style="top:155.6px;letter-spacing:0.2px">6,000</div><div class="t yl" style="top:204.5px;letter-spacing:0.2px">4,000</div><div class="t yl" style="top:253.0px;letter-spacing:0.2px">2,000</div><div class="t yl" style="top:297.2px;letter-spacing:0.2px">0</div><div class="t xl" style="left:76.8px">2010</div><div class="t xl" style="left:139.4px">2013</div><div class="t xl" style="left:202.1px">2016</div><div class="t xl" style="left:265.2px">2019</div><div class="t xl" style="left:328.0px">2022</div><div class="t xl" style="left:390.9px">2025</div><div class="t rl" style="top:63.35px">USD/EUR</div><div class="t rl" style="top:76.05px">USD/JPY</div><div class="t rl" style="top:88.75px">USD/CNY</div><div class="t rl" style="top:101.45px">USD/GBP</div><div class="t rl" style="top:114.15px">USD/CAD</div><div class="t rl" style="top:126.85px">USD/AUD</div><div class="t rl" style="top:139.55px">USD/CHF</div><div class="t rl" style="top:152.25px">USD/HKD</div><div class="t rl" style="top:164.95px">USD/SGD</div><div class="t rl" style="top:177.65px">USD/INR</div><div class="t rl" style="top:190.35px">EUR/GBP</div><div class="t rl" style="top:203.05px">USD/KRW</div><div class="t rl" style="top:215.75px">USD/MXN</div><div class="t rl" style="top:228.45px">USD/NZD</div><div class="t tk" style="left:513.3px">0</div><div class="t tk" style="left:549.9px">5</div><div class="t tk" style="left:582.0px">10</div><div class="t tk" style="left:616.3px">15</div><div class="t tk" style="left:650.7px">20</div>
<div class="t" style="left:-0.1px;top:166.5px;width:48px;text-align:center;color:#6070ff;transform:rotate(-90deg);letter-spacing:-0.29px">$ Billion / Day</div>
<div class="t" style="left:547px;top:259.7px;width:100px;text-align:center;color:#6070ff;letter-spacing:-0.286px">% of total (all pairs)</div>
<div class="t" style="left:560.6px;top:298.3px;letter-spacing:-0.34px">USD/<span style="letter-spacing:-0.9px">...</span></div>
<div class="t" style="left:630.5px;top:298.3px;letter-spacing:-0.34px">EUR/<span style="letter-spacing:-0.9px">...</span></div>
<div class="t src" style="top:345.5px;letter-spacing:-0.268px">Source: BIS Triennial Central Bank Survey, April 2025</div>
<div class="t src" style="top:354.7px;letter-spacing:-0.253px">* Shares of average daily turnover of FX instruments in April 2025</div>
<div class="t" style="left:29.2px;top:381.1px;font-size:9.0px;letter-spacing:-0.105px;-webkit-text-stroke:0.25px #fff">Learn more about Codex at www.codex.xyz</div>
<div class="t" style="left:663.6px;top:379.0px;font-size:13.8px;line-height:15px;height:15px;letter-spacing:-0.9px;-webkit-text-stroke:0.35px #fff">CODEX</div>
</div>
</body></html>
